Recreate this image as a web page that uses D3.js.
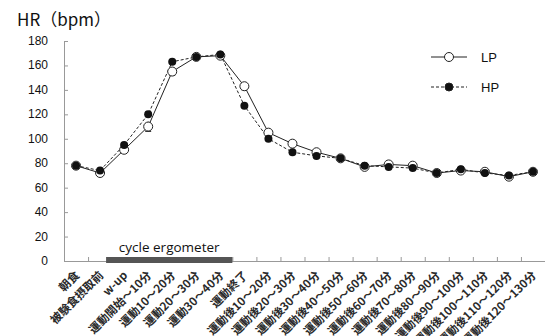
<!DOCTYPE html>
<html><head><meta charset="utf-8">
<script src="https://cdn.jsdelivr.net/npm/d3@7"></script>
<style>body{margin:0;background:#fff}svg{display:block}</style>
</head><body>
<script>
const categories = ["朝食","被験食摂取前","w-up","運動開始～10分","運動10～20分","運動20～30分","運動30～40分","運動終了","運動後10～20分","運動後20～30分","運動後30～40分","運動後40～50分","運動後50～60分","運動後60～70分","運動後70～80分","運動後80～90分","運動後90～100分","運動後100～110分","運動後110～120分","運動後120～130分"];
const lpValues = [78,72,91,110,155,167,168,143,105,96,89,84,77,79,78,72,74,73,69,73];
const hpValues = [78,74,95,120,163,167,169,127,100,89,86,84,78,77,76,72,75,72,70,73];
const lpErr = [1,1,2,4,3,2,2,3,2,2,2,1,1,1,1,1,2,1,1,1];
const yTicks = [0,20,40,60,80,100,120,140,160,180];
const seriesNames = ["LP","HP"];

const W=545,H=336;
const svg=d3.select("body").append("svg").attr("width",W).attr("height",H);
const x=d3.scaleBand().domain(categories).range([64,545]);
const y=d3.scaleLinear().domain([0,180]).range([261,41]);
const cx=d=>x(d)+x.bandwidth()/2;
const jp='"Noto Sans CJK JP", sans-serif';

svg.append("text").attr("x",17).attr("y",26).attr("font-family",jp).attr("font-size",17).attr("fill","#111").text("HR（bpm）");

// y axis
const ya=svg.append("g").attr("transform","translate(64,0)").call(d3.axisRight(y).tickValues(yTicks).tickSize(4).tickFormat(""));
ya.select(".domain").attr("stroke","#999");
ya.selectAll(".tick line").attr("stroke","#999");
svg.selectAll(".ylab").data(yTicks).join("text").attr("x",48).attr("y",d=>y(d)+4).attr("text-anchor","end")
  .attr("font-family",'"Liberation Sans", Arial, sans-serif').attr("font-size",12).attr("fill","#111").text(d=>d);

// x axis
const xb=d3.scaleLinear().domain([0,categories.length]).range([64,545]);
const xa=svg.append("g").attr("transform","translate(0,261)").call(d3.axisTop(xb).tickValues(d3.range(1,categories.length)).tickSize(4).tickFormat(""));
xa.select(".domain").attr("stroke","#999");
xa.selectAll(".tick line").attr("stroke","#999");
svg.selectAll(".xlab").data(categories).join("text")
  .attr("transform",d=>`translate(${cx(d)+4},${276}) rotate(-45)`)
  .attr("text-anchor","end").attr("font-family",jp).attr("font-size",11.5).attr("font-weight","bold").attr("fill","#2a2a2a").text(d=>d);

// cycle ergometer bar
svg.append("rect").attr("x",xb(1.75)).attr("y",257).attr("width",xb(7.0)-xb(1.75)).attr("height",6).attr("fill","#555");
svg.append("text").attr("x",(xb(1.75)+xb(7.0))/2).attr("y",252).attr("text-anchor","middle").attr("font-family",'"Open Sans", sans-serif').attr("font-size",13.5).attr("fill","#111").text("cycle ergometer");

// error bars
svg.selectAll(".err").data(categories).join("line").attr("x1",cx).attr("x2",cx)
  .attr("y1",(d,i)=>y(lpValues[i]-lpErr[i])).attr("y2",(d,i)=>y(lpValues[i]+lpErr[i])).attr("stroke","#333");
svg.selectAll(".errc").data(categories).join("line").attr("x1",d=>cx(d)-3).attr("x2",d=>cx(d)+3)
  .attr("y1",(d,i)=>y(lpValues[i]-lpErr[i])).attr("y2",(d,i)=>y(lpValues[i]-lpErr[i])).attr("stroke","#333");

const line=vals=>d3.line().x((d,i)=>cx(categories[i])).y(d=>y(d))(vals);
svg.append("path").attr("d",line(hpValues)).attr("fill","none").attr("stroke","#222").attr("stroke-dasharray","3,2");
svg.append("path").attr("d",line(lpValues)).attr("fill","none").attr("stroke","#222");
svg.selectAll(".lp").data(lpValues).join("circle").attr("cx",(d,i)=>cx(categories[i])).attr("cy",d=>y(d)).attr("r",4.5).attr("fill","#fff").attr("stroke","#222");
svg.selectAll(".hp").data(hpValues).join("circle").attr("cx",(d,i)=>cx(categories[i])).attr("cy",d=>y(d)).attr("r",4).attr("fill","#111");

// legend
const lg=svg.append("g");
[0,1].forEach(k=>{
  const yy=57+k*30;
  lg.append("line").attr("x1",431).attr("x2",467).attr("y1",yy).attr("y2",yy).attr("stroke","#222").attr("stroke-dasharray",k?"3,2":null);
  lg.append("circle").attr("cx",449).attr("cy",yy).attr("r",k?4:4.5).attr("fill",k?"#111":"#fff").attr("stroke","#222");
  lg.append("text").attr("x",481).attr("y",yy+5).attr("font-family",'"Liberation Sans", Arial, sans-serif').attr("font-size",13).attr("fill","#111").text(seriesNames[k]);
});
</script>
</body></html>
